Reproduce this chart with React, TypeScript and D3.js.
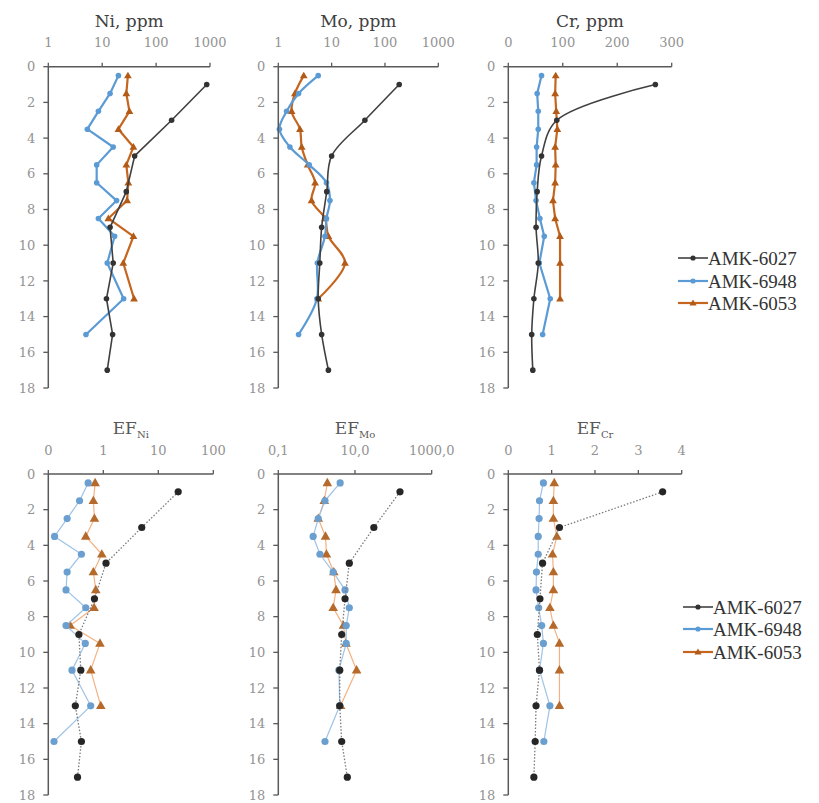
import React from 'react';
import * as d3 from 'd3';

// depths (m) of the three cores
const depth6027 = [1, 3, 5, 7, 9, 11, 13, 15, 17];
const depth6948 = [0.5, 1.5, 2.5, 3.5, 4.5, 5.5, 6.5, 7.5, 8.5, 9.5, 11, 13, 15];
const depth6053 = [0.5, 1.5, 2.5, 3.5, 4.5, 5.5, 6.5, 7.5, 8.5, 9.5, 11, 13];

const seriesNames = ['AMK-6027', 'AMK-6948', 'AMK-6053'];
const depthTicks = [0, 2, 4, 6, 8, 10, 12, 14, 16, 18];

// Ni, ppm
const ni6027 = [870, 194, 40, 28, 14, 16, 12, 15.6, 12.4];
const ni6948 = [20, 14, 8.5, 5.3, 16, 7.9, 7.9, 18.5, 8.5, 17, 12.4, 25, 5.0];
const ni6053 = [30, 28, 32, 20, 38, 28, 30.5, 29, 13, 38, 24.6, 39];
// Mo, ppm
const mo6027 = [185, 42, 10, 8.1, 6.5, 6, 5.6, 6.5, 8.7];
const mo6948 = [5.6, 2.4, 1.43, 1.05, 1.65, 3.8, 8, 9.3, 8, 7.5, 5.4, 5.3, 2.4];
const mo6053 = [3.0, 2.05, 1.78, 2.55, 2.75, 3.55, 4.9, 4.2, 7.5, 8.7, 17.8, 5.6];
// Cr, ppm
const cr6027 = [270, 89, 61, 53, 51, 55, 47, 43, 45];
const cr6948 = [61, 53, 55, 55, 52, 52, 47, 51, 58, 66, 57, 77, 63];
const cr6053 = [87, 86, 88, 90, 86, 87, 86, 82, 86, 95, 95, 95];
// EF Ni
const efNi6027 = [23, 5.0, 1.12, 0.69, 0.36, 0.39, 0.31, 0.40, 0.34];
const efNi6948 = [0.53, 0.37, 0.22, 0.13, 0.40, 0.22, 0.21, 0.48, 0.21, 0.47, 0.27, 0.59, 0.127];
const efNi6053 = [0.71, 0.66, 0.69, 0.48, 0.94, 0.66, 0.73, 0.68, 0.25, 0.87, 0.59, 0.90];
// EF Mo
const efMo6027 = [149, 31, 7.1, 5.5, 4.5, 4, 4, 4.5, 6.3];
const efMo6948 = [4.1, 1.65, 1.1, 0.81, 1.22, 2.7, 5.5, 7.1, 5.9, 5.9, 3.8, 4, 1.65];
const efMo6053 = [1.9, 1.58, 1.1, 1.7, 1.8, 2.8, 3.2, 2.7, 5.0, 5.8, 11, 4.2];
// EF Cr
const efCr6027 = [3.56, 1.18, 0.79, 0.73, 0.67, 0.72, 0.64, 0.62, 0.59];
const efCr6948 = [0.81, 0.72, 0.71, 0.69, 0.69, 0.65, 0.64, 0.70, 0.77, 0.81, 0.72, 0.96, 0.82];
const efCr6053 = [1.06, 1.04, 1.04, 1.12, 1.02, 1.04, 1.04, 0.96, 1.04, 1.18, 1.18, 1.18];

// x tick labels
const niTicks = [1, 10, 100, 1000];
const moTicks = [1, 10, 100, 1000];
const crTicks = [0, 100, 200, 300];
const efNiTicks = [0.1, 1, 10, 100];
const efMoTicks = [0.1, 10, 1000];
const efCrTicks = [0, 1, 2, 3, 4];

const AXIS = '#595959';
const TICKTXT = '#939393';
const FONT = '"DejaVu Serif", serif';

type PanelProps = {
  x0: number; x1: number; yTop: number; yBot: number;
  log: boolean; domain: [number, number]; ticks: number[];
  fmt: (v: number) => string;
  title: React.ReactNode;
  data: number[][];
  smooth: boolean[];
  bottom: boolean;
};

function Panel(p: PanelProps) {
  const x = p.log
    ? d3.scaleLog().domain(p.domain).range([p.x0, p.x1])
    : d3.scaleLinear().domain(p.domain).range([p.x0, p.x1]);
  const y = d3.scaleLinear().domain([0, 18]).range([p.yTop, p.yBot]);
  const depths = [depth6027, depth6948, depth6053];
  const tri = d3.symbol().type(d3.symbolTriangle).size(p.bottom ? 40 : 26)() as string;

  const lineStyles = p.bottom
    ? [
        { stroke: '#7a7a7a', width: 1.3, dash: '1.5 1.8' },
        { stroke: '#9dc3e6', width: 1.2, dash: undefined },
        { stroke: '#f4b183', width: 1.2, dash: undefined },
      ]
    : [
        { stroke: '#404040', width: 1.6, dash: undefined },
        { stroke: '#5b9bd5', width: 2.2, dash: undefined },
        { stroke: '#c5651e', width: 2.2, dash: undefined },
      ];
  const markerFill = p.bottom
    ? ['#262626', '#6a9fd0', '#b56a2c']
    : ['#333333', '#5b9bd5', '#b35a16'];
  const r = p.bottom ? 3.6 : 2.8;

  return (
    <g>
      {[2, 1, 0].map((si) => {
        const pts: [number, number][] = p.data[si].map((v, i) => [x(v), y(depths[si][i])]);
        const gen = d3.line().curve(p.smooth[si] ? d3.curveCatmullRom.alpha(0.5) : d3.curveLinear);
        const st = lineStyles[si];
        return (
          <g key={si}>
            <path d={gen(pts) || ''} fill="none" stroke={st.stroke} strokeWidth={st.width}
              strokeDasharray={st.dash} strokeLinejoin="round" />
            {pts.map(([px, py], i) =>
              si === 2 ? (
                <path key={i} d={tri} transform={`translate(${px},${py + 0.5})`} fill={markerFill[si]} />
              ) : (
                <circle key={i} cx={px} cy={py} r={r} fill={markerFill[si]} />
              )
            )}
          </g>
        );
      })}
      {/* y axis */}
      <line x1={p.x0} x2={p.x0} y1={p.yTop} y2={p.yBot} stroke={AXIS} strokeWidth={1.5} />
      {depthTicks.map((t) => (
        <g key={t}>
          <line x1={p.x0 - 5} x2={p.x0} y1={y(t)} y2={y(t)} stroke={AXIS} strokeWidth={1.3} />
          <text x={p.x0 - 13} y={y(t)} dy="0.36em" textAnchor="end" fontSize={13}
            fontFamily={FONT} fill={TICKTXT}>{t}</text>
        </g>
      ))}
      {/* x axis */}
      <line x1={p.x0} x2={p.x1} y1={p.yTop} y2={p.yTop} stroke={AXIS} strokeWidth={1.5} />
      {p.ticks.map((t) => (
        <g key={t}>
          <line x1={x(t)} x2={x(t)} y1={p.yTop - 4} y2={p.yTop} stroke={AXIS} strokeWidth={1.3} />
          <text x={x(t)} y={p.yTop - 24} dy="0.36em" textAnchor="middle" fontSize={13}
            fontFamily={FONT} fill={TICKTXT}>{p.fmt(t)}</text>
        </g>
      ))}
      {/* title */}
      <text x={(p.x0 + p.x1) / 2} y={p.yTop - 40} textAnchor="middle" fontFamily={FONT}
        fontSize={17} fill={p.bottom ? '#595959' : '#404040'}>{p.title}</text>
    </g>
  );
}

function Legend({ x, ys }: { x: number; ys: number[] }) {
  const cols = ['#404040', '#5b9bd5', '#c5651e'];
  const tri = d3.symbol().type(d3.symbolTriangle).size(22)() as string;
  return (
    <g>
      {seriesNames.map((n, i) => (
        <g key={n}>
          <line x1={x} x2={x + 30} y1={ys[i]} y2={ys[i]} stroke={cols[i]} strokeWidth={i === 0 ? 1.6 : 2.2} />
          {i === 2 ? (
            <path d={tri} transform={`translate(${x + 15},${ys[i] + 0.5})`} fill="#b35a16" />
          ) : (
            <circle cx={x + 15} cy={ys[i]} r={2.6} fill={i === 0 ? '#333' : cols[i]} />
          )}
          <text x={x + 30} y={ys[i]} dy="0.35em" fontFamily='"Liberation Serif", "Times New Roman", serif'
            fontSize={19} fill="#333">{n}</text>
        </g>
      ))}
    </g>
  );
}

const fmtInt = (v: number) => (v < 1 ? '0' : String(v));
const fmtComma = (v: number) => v.toFixed(1).replace('.', ',');
const fmtPlain = (v: number) => String(v);

function EF({ sub }: { sub: string }) {
  return (
    <>
      EF<tspan fontSize={10} dy={4}>{sub}</tspan>
    </>
  );
}

export default function App() {
  const topY0 = 66.7, topY1 = 388;
  const botY0 = 474, botY1 = 795;
  return (
    <svg width={819} height={803} style={{ position: 'absolute', left: 0, top: 0, background: '#fff' }}>
      <rect width={819} height={803} fill="#fff" />
      <Panel x0={48.3} x1={210} yTop={topY0} yBot={topY1} log domain={[1, 1000]} ticks={niTicks}
        fmt={fmtPlain} title="Ni, ppm" data={[ni6027, ni6948, ni6053]} smooth={[false, false, false]} bottom={false} />
      <Panel x0={278.3} x1={438.3} yTop={topY0} yBot={topY1} log domain={[1, 1000]} ticks={moTicks}
        fmt={fmtPlain} title="Mo, ppm" data={[mo6027, mo6948, mo6053]} smooth={[true, true, true]} bottom={false} />
      <Panel x0={508.3} x1={671.7} yTop={topY0} yBot={topY1} log={false} domain={[0, 300]} ticks={crTicks}
        fmt={fmtPlain} title="Cr, ppm" data={[cr6027, cr6948, cr6053]} smooth={[true, false, false]} bottom={false} />
      <Legend x={678} ys={[258, 281, 303]} />

      <Panel x0={48.3} x1={213.3} yTop={botY0} yBot={botY1} log domain={[0.1, 100]} ticks={efNiTicks}
        fmt={fmtInt} title={<EF sub="Ni" />} data={[efNi6027, efNi6948, efNi6053]} smooth={[false, false, false]} bottom />
      <Panel x0={278.3} x1={431.7} yTop={botY0} yBot={botY1} log domain={[0.1, 1000]} ticks={efMoTicks}
        fmt={fmtComma} title={<EF sub="Mo" />} data={[efMo6027, efMo6948, efMo6053]} smooth={[false, false, false]} bottom />
      <Panel x0={508.3} x1={681.7} yTop={botY0} yBot={botY1} log={false} domain={[0, 4]} ticks={efCrTicks}
        fmt={fmtPlain} title={<EF sub="Cr" />} data={[efCr6027, efCr6948, efCr6053]} smooth={[false, false, false]} bottom />
      <Legend x={683} ys={[607, 629, 652]} />
    </svg>
  );
}
